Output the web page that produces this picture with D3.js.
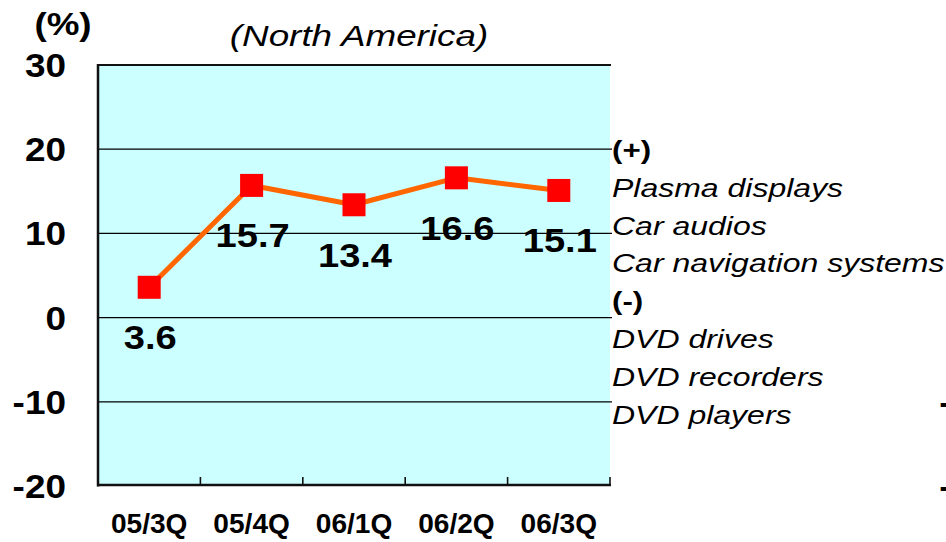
<!DOCTYPE html>
<html>
<head>
<meta charset="utf-8">
<script src="https://cdn.jsdelivr.net/npm/d3@7"></script>
<style>
  html, body { margin: 0; padding: 0; background: #ffffff; }
  svg { display: block; font-family: "Liberation Sans", Arial, sans-serif; }
</style>
</head>
<body>
<svg id="chart" width="946" height="542"></svg>
<script>
// Quarterly year-on-year growth, North America
const quarters = ["05/3Q", "05/4Q", "06/1Q", "06/2Q", "06/3Q"];
const growth = [3.6, 15.7, 13.4, 16.6, 15.1];
const yTicks = [30, 20, 10, 0, -10, -20];
const plusItems = ["Plasma displays", "Car audios", "Car navigation systems"];
const minusItems = ["DVD drives", "DVD recorders", "DVD players"];
const titleText = "(North America)";
const unitText = "(%)";

const svg = d3.select("#chart");

const plot = { left: 98, right: 610, top: 65, bottom: 486 };

const x = d3.scaleBand().domain(quarters).range([plot.left, plot.right]);
const y = d3.scaleLinear().domain([-20, 30]).range([plot.bottom, plot.top]);

// text with a horizontal widening factor
function stretched(sel, sx) {
  return sel.attr("transform", d => `translate(${d.x},${d.y}) scale(${sx},1)`);
}

// plot background
svg.append("rect")
  .attr("x", plot.left).attr("y", plot.top)
  .attr("width", plot.right - plot.left).attr("height", plot.bottom - plot.top)
  .attr("fill", "#ccffff");

// horizontal grid lines
svg.append("g").selectAll("line")
  .data(yTicks.filter(t => t !== 30 && t !== -20))
  .join("line")
  .attr("x1", plot.left).attr("x2", plot.right + 2)
  .attr("y1", d => y(d)).attr("y2", d => y(d))
  .attr("stroke", "#000").attr("stroke-width", 1.3);

// top frame line
svg.append("line")
  .attr("x1", plot.left).attr("x2", plot.right + 1)
  .attr("y1", y(30)).attr("y2", y(30))
  .attr("stroke", "#111").attr("stroke-width", 2.2);

// bottom axis with inward ticks at category boundaries
const xAxis = svg.append("g").attr("transform", `translate(0,${plot.bottom - 1})`);
xAxis.append("line")
  .attr("x1", plot.left - 1).attr("x2", plot.right + 1)
  .attr("stroke", "#111").attr("stroke-width", 2.5);
xAxis.selectAll("line.tick")
  .data(quarters)
  .join("line").attr("class", "tick")
  .attr("x1", d => x(d) + x.bandwidth()).attr("x2", d => x(d) + x.bandwidth())
  .attr("y1", 0).attr("y2", -8)
  .attr("stroke", "#111").attr("stroke-width", 1.6);

// left axis line
svg.append("line")
  .attr("x1", plot.left).attr("x2", plot.left)
  .attr("y1", plot.top - 1).attr("y2", plot.bottom + 0.5)
  .attr("stroke", "#111").attr("stroke-width", 2.5);

// y tick labels
const tickFont = { size: 33, sx: 1.12 };
stretched(
  svg.append("g").selectAll("text")
    .data(yTicks.map(t => ({ t, x: 66, y: y(t) + 12 })))
    .join("text")
    .attr("text-anchor", "end")
    .attr("font-weight", "bold")
    .attr("font-size", tickFont.size)
    .attr("fill", "#000")
    .text(d => d.t),
  tickFont.sx);

// minus signs of the next panel's negative tick labels, at the right edge
stretched(
  svg.append("g").selectAll("text")
    .data(yTicks.filter(t => t < 0).map(t => ({ t, x: 939.3, y: y(t) + 12 })))
    .join("text")
    .attr("font-weight", "bold")
    .attr("font-size", tickFont.size)
    .attr("fill", "#000")
    .text("-"),
  tickFont.sx);

// unit label
stretched(svg.append("text").datum({ x: 63, y: 35 })
  .attr("text-anchor", "middle").attr("font-weight", "bold")
  .attr("font-size", 32).text(unitText), 1.15);

// title
stretched(svg.append("text").datum({ x: 359, y: 46 })
  .attr("text-anchor", "middle").attr("font-style", "italic")
  .attr("font-size", 29).text(titleText), 1.27);

// x category labels
stretched(
  svg.append("g").selectAll("text")
    .data(quarters.map(q => ({ q, x: x(q) + x.bandwidth() / 2, y: 533 })))
    .join("text")
    .attr("text-anchor", "middle").attr("font-weight", "bold")
    .attr("font-size", 27).text(d => d.q),
  1.04);

// growth line
const pts = quarters.map((q, i) => ({ q, v: growth[i], px: x(q) + x.bandwidth() / 2, py: y(growth[i]) }));
svg.append("path")
  .datum(pts)
  .attr("d", d3.line().x(d => d.px).y(d => d.py))
  .attr("fill", "none").attr("stroke", "#ff6600").attr("stroke-width", 5)
  .attr("stroke-linejoin", "round");

// square markers
const ms = 23;
svg.append("g").selectAll("rect")
  .data(pts)
  .join("rect")
  .attr("x", d => d.px - ms / 2).attr("y", d => d.py - ms / 2)
  .attr("width", ms).attr("height", ms)
  .attr("fill", "#ff0000");

// value labels under each marker
stretched(
  svg.append("g").selectAll("text")
    .data(pts.map(p => ({ v: p.v, x: p.px + 1, y: p.py + 62 })))
    .join("text")
    .attr("text-anchor", "middle").attr("font-weight", "bold")
    .attr("font-size", 34).attr("fill", "#000")
    .text(d => d3.format(".1f")(d.v)),
  1.12);

// product notes to the right of the plot
const notes = [
  { text: "(+)", bold: true },
  ...plusItems.map(t => ({ text: t, bold: false })),
  { text: "(-)", bold: true },
  ...minusItems.map(t => ({ text: t, bold: false }))
];
const noteTop = 159, noteStep = 37.8;
svg.append("g").selectAll("text")
  .data(notes.map((n, i) => ({ ...n, x: 612, y: noteTop + i * noteStep })))
  .join("text")
  .attr("transform", d => `translate(${d.x},${d.y}) scale(${d.bold ? 1.25 : 1.28},1)`)
  .attr("font-weight", d => d.bold ? "bold" : "normal")
  .attr("font-style", d => d.bold ? "normal" : "italic")
  .attr("font-size", 25)
  .attr("fill", "#000")
  .text(d => d.text);
</script>
</body>
</html>
